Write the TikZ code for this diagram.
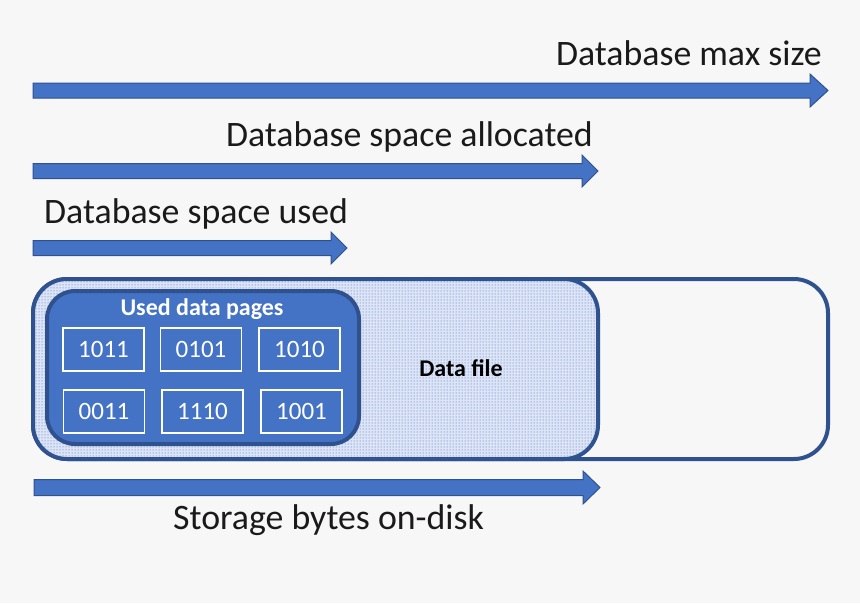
\documentclass[tikz,border=0pt]{standalone}
\usepackage{fontspec}
\setmainfont{Carlito}
\usetikzlibrary{patterns}
\definecolor{bg}{HTML}{F7F7F7}
\definecolor{accblue}{HTML}{4472C4}
\definecolor{darkblue}{HTML}{2F528F}
\definecolor{lightfill}{HTML}{DCE4F5}
\definecolor{dotblue}{HTML}{3566C2}
\definecolor{txt}{HTML}{1A1A1A}
\tikzset{
  bigarrow/.style={fill=accblue, draw=darkblue, line width=1pt, line join=miter},
  biglabel/.style={font=\fontsize{35.8}{42}\selectfont, text=txt, inner sep=0pt},
  outerbox/.style={draw=darkblue, line width=4pt, rounded corners=34pt},
  filebox/.style={draw=darkblue, line width=4pt, rounded corners=34pt, fill=lightfill,
    postaction={pattern=dots, pattern color=dotblue}},
  usedbox/.style={draw=darkblue, line width=4pt, rounded corners=28pt, fill=accblue},
  pagebox/.style={draw=white, line width=1.8pt, fill=accblue, minimum width=81pt, minimum height=43pt,
    inner sep=0pt, text=white, font=\fontsize{25}{28}\selectfont},
}
\begin{document}
\begin{tikzpicture}[x=1pt,y=-1pt]
\fill[bg] (0,0) rectangle (860,603);
\useasboundingbox (0,0) rectangle (860,603);

% arrows
\draw[bigarrow] (33,83) -- (810,83) -- (810,74) -- (828,90.5) -- (810,107) -- (810,98) -- (33,98) -- cycle;
\node[biglabel, anchor=base east] (maxlbl) at (822,65) {Database max size};

\draw[bigarrow] (33,163.5) -- (582,163.5) -- (582,155) -- (598,171) -- (582,187) -- (582,178.5) -- (33,178.5) -- cycle;
\node[biglabel, anchor=base east] (alloclbl) at (593,146) {Database space allocated};

\draw[bigarrow] (33,240.5) -- (331,240.5) -- (331,232) -- (347,248) -- (331,264) -- (331,255.5) -- (33,255.5) -- cycle;
\node[biglabel, anchor=base west] (usedlbl) at (44,223) {Database space used};

\draw[bigarrow] (34,479.5) -- (583,479.5) -- (583,471) -- (600,487.5) -- (583,504) -- (583,495.5) -- (34,495.5) -- cycle;
\node[biglabel, anchor=base west] (disklbl) at (173,529) {Storage bytes on-disk};

% boxes
\draw[outerbox] (33,279) rectangle (828,459);
\draw[filebox] (33,279) rectangle (598,459);
\node[font=\bfseries\fontsize{24}{28}\selectfont, text=black] (datafile) at (461,368) {Data file};

\draw[usedbox] (47,291) rectangle (359,444);
\node[font=\bfseries\fontsize{24}{28}\selectfont, text=white] (usedtitle) at (202,309) {Used data pages};

\node[pagebox] (p1) at (103.5,349.5) {1011};
\node[pagebox] (p2) at (201,349.5) {0101};
\node[pagebox] (p3) at (299.5,349.5) {1010};
\node[pagebox] (p4) at (104,411.5) {0011};
\node[pagebox] (p5) at (202.5,411.5) {1110};
\node[pagebox] (p6) at (301.5,411.5) {1001};
\end{tikzpicture}
\end{document}
